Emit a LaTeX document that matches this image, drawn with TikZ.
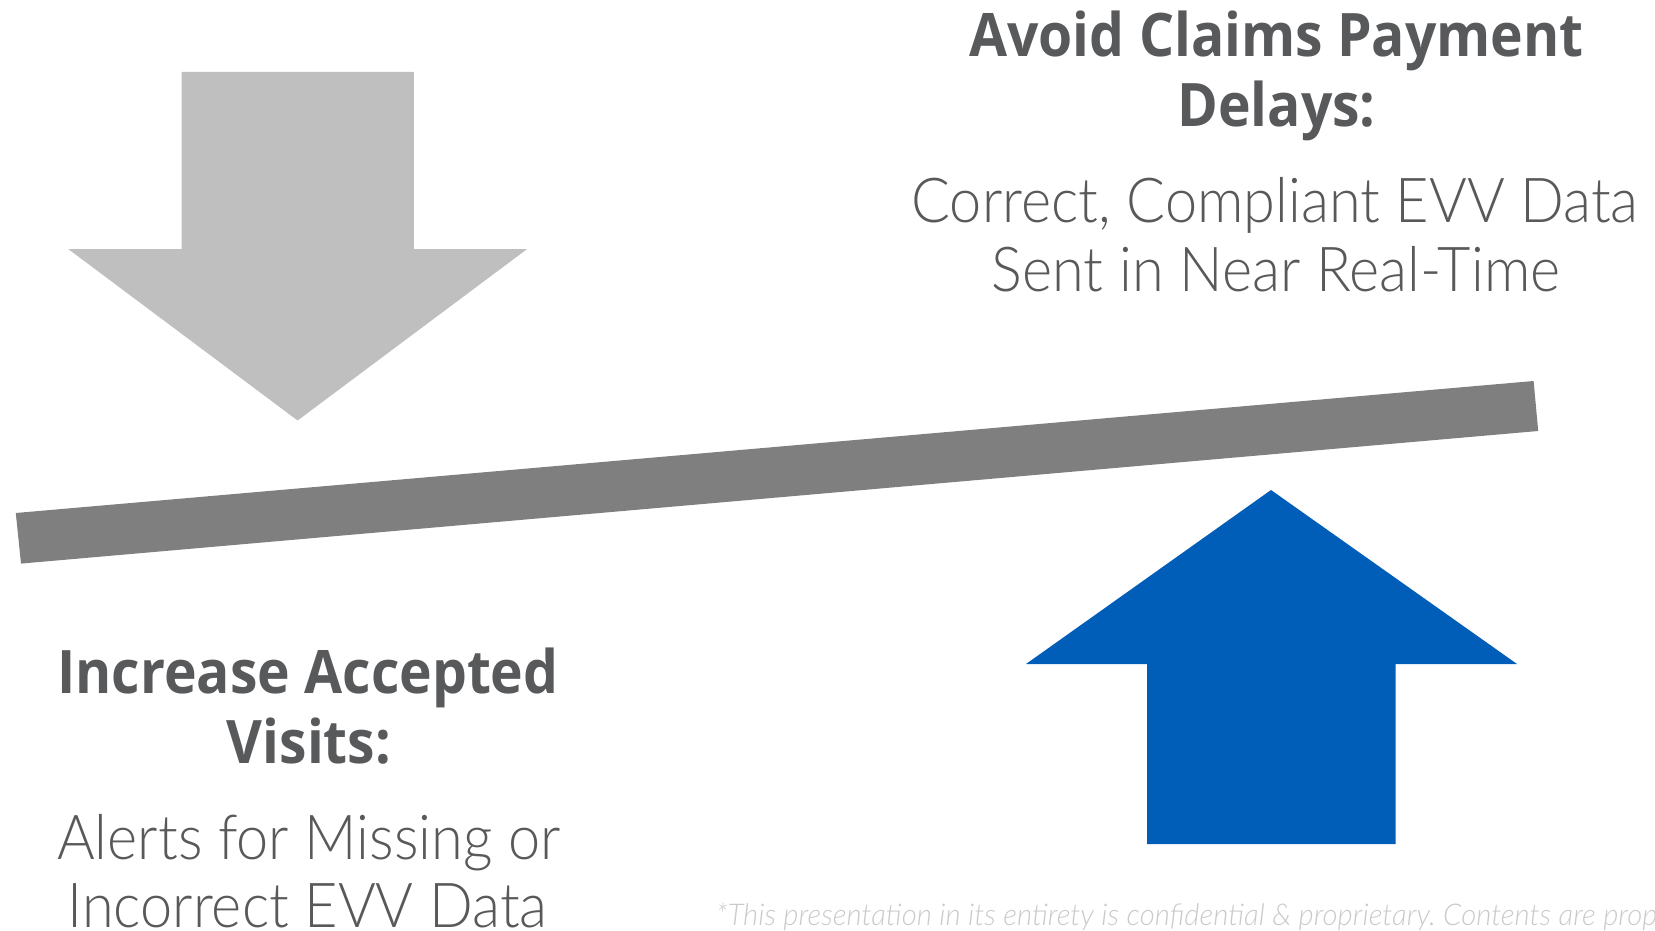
\documentclass[tikz,border=0pt]{standalone}
\usepackage{fontspec}
\newfontfamily\headf[FakeStretch=0.92]{Open Sans Bold}
\newfontfamily\bodyf[FakeStretch=0.93]{Lato Light}
\newfontfamily\footf[FakeStretch=0.978]{Lato Light Italic}
\definecolor{txt}{HTML}{58595B}
\definecolor{lightarrow}{HTML}{BFBFBF}
\definecolor{beam}{HTML}{7F7F7F}
\definecolor{bluearrow}{HTML}{005EB8}
\definecolor{foot}{HTML}{CACACB}
\tikzset{
  headtxt/.style={text=txt,anchor=base,inner sep=0pt,font=\headf\fontsize{60}{70}\selectfont},
  bodytxt/.style={text=txt,anchor=base,inner sep=0pt,font=\bodyf\fontsize{62}{68}\selectfont},
  foottxt/.style={text=foot,anchor=base west,inner sep=0pt,font=\footf\fontsize{30}{34}\selectfont},
}
\frenchspacing
\begin{document}
\begin{tikzpicture}[x=1pt,y=-1pt]
\useasboundingbox (0,0) rectangle (1655,931);
\clip (0,0) rectangle (1655,931);
\fill[lightarrow] (181.5,71.8) -- (413.8,71.8) -- (413.8,249) -- (527.2,249) -- (297.6,420.5) -- (68.2,249) -- (181.5,249) -- cycle;
\fill[beam] (15.8,513) -- (1533.6,381) -- (1538.2,431) -- (21,563.6) -- cycle;
\fill[bluearrow] (1271,490) -- (1517,664) -- (1395.6,664) -- (1395.6,844) -- (1147,844) -- (1147,664) -- (1026,664) -- cycle;
\node[headtxt] (h1a) at (1276.5,56.5) {Avoid Claims Payment};
\node[headtxt] (h1b) at (1276.5,126.5) {Delays:};
\node[bodytxt] (b1a) at (1275,222.7) {Correct, Compliant EVV Data};
\node[bodytxt] (b1b) at (1276,291) {Sent in Near Real-Time};
\node[headtxt] (h2a) at (308,693.7) {Increase Accepted};
\node[headtxt] (h2b) at (309,763.7) {Visits:};
\node[bodytxt] (b2a) at (309,859) {Alerts for Missing or};
\node[bodytxt] (b2b) at (307.5,927.7) {Incorrect EVV Data};
\node[foottxt] (f) at (716,925) {*This presentation in its entirety is confidential \& proprietary. Contents are prop};
\end{tikzpicture}
\end{document}
